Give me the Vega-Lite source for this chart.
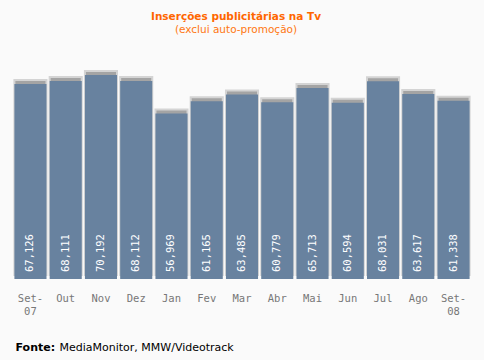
{
"$schema": "https://vega.github.io/schema/vega-lite/v6.json",
"width": 458, "height": 218,
"padding": {"left": 13, "right": 13, "top": 12, "bottom": 8},
"background": "#fafafa",
"config": {"view": {"stroke": null}},
"title": {"text": "Inserções publicitárias na Tv", "subtitle": "(exclui auto-promoção)", "color": "#ff6600", "subtitleColor": "#ff7711", "font": "DejaVu Sans", "fontSize": 10.5, "fontWeight": "bold", "subtitleFont": "DejaVu Sans", "subtitleFontSize": 10.5, "subtitlePadding": 2, "offset": 26, "anchor": "middle", "dx": -6},
"data": {"values": [
{"mes": "Set-07", "valor": 67126},
{"mes": "Out", "valor": 68111},
{"mes": "Nov", "valor": 70192},
{"mes": "Dez", "valor": 68112},
{"mes": "Jan", "valor": 56969},
{"mes": "Fev", "valor": 61165},
{"mes": "Mar", "valor": 63485},
{"mes": "Abr", "valor": 60779},
{"mes": "Mai", "valor": 65713},
{"mes": "Jun", "valor": 60594},
{"mes": "Jul", "valor": 68031},
{"mes": "Ago", "valor": 63617},
{"mes": "Set-08", "valor": 61338}
]},
"resolve": {"axis": {"x": "independent"}},
"layer": [
 {"mark": {"type": "bar", "color": "#a4a4a4", "yOffset": -4, "stroke": "#d4d4d4", "strokeWidth": 2},
  "encoding": {
   "x": {"field": "mes", "type": "nominal", "sort": null, "scale": {"paddingInner": 0.09, "paddingOuter": 0.04},
    "axis": {"orient": "bottom", "labelAngle": 0, "domain": false, "ticks": false, "labelPadding": 19, "labelFont": "DejaVu Sans Mono", "labelFontSize": 10.5, "labelColor": "#777777", "labelLineHeight": 13, "labelBaseline": "middle",
     "labelExpr": "indexof(datum.label, '-') > 0 ? [slice(datum.label, 0, 4), slice(datum.label, 4)] : datum.label",
     "title": "Fonte:", "titleAnchor": "start", "titleAlign": "left", "titleBaseline": "middle", "titleX": 2, "titleY": 68, "titleColor": "#000000", "titleFont": "DejaVu Sans", "titleFontSize": 11, "titleFontWeight": "bold"}},
   "y": {"field": "valor", "type": "quantitative", "scale": {"domain": [0, 75000], "nice": false}, "axis": null}}},
 {"mark": {"type": "bar", "color": "#68829f"},
  "encoding": {
   "x": {"field": "mes", "type": "nominal", "sort": null,
    "axis": {"orient": "bottom", "labels": false, "domain": false, "ticks": false,
     "title": "MediaMonitor, MMW/Videotrack", "titleAnchor": "start", "titleAlign": "left", "titleBaseline": "middle", "titleX": 46, "titleY": 68, "titleColor": "#000000", "titleFont": "DejaVu Sans", "titleFontSize": 11, "titleFontWeight": "normal"}},
   "y": {"field": "valor", "type": "quantitative", "axis": null}}},
 {"mark": {"type": "text", "angle": 270, "align": "left", "baseline": "middle", "dx": 7, "color": "white", "font": "DejaVu Sans Mono", "fontSize": 10.5},
  "encoding": {
   "x": {"field": "mes", "type": "nominal", "sort": null, "axis": null},
   "y": {"datum": 0, "type": "quantitative"}, "text": {"field": "valor", "type": "quantitative", "format": ",.0f"}}}
]
}
